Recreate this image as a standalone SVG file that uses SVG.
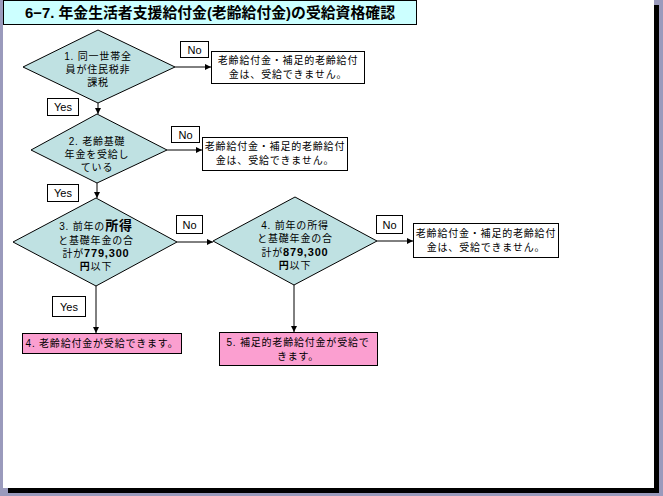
<svg xmlns="http://www.w3.org/2000/svg" width="663" height="496" viewBox="0 0 663 496">
<defs>
<marker id="arr" markerWidth="6" markerHeight="6" refX="6" refY="3" orient="auto" markerUnits="userSpaceOnUse">
<path d="M0,0 L6,3 L0,6 z" fill="#000"/>
</marker>
<style>
.dia{fill:#bfe1e2;stroke:#000;stroke-width:1}
.box{fill:#fff;stroke:#000;stroke-width:1}
.pink{fill:#fb9fd0;stroke:#000;stroke-width:1}
.lbl{fill:#fff;stroke:#000;stroke-width:1}
.jp{font-family:"Liberation Sans","Noto Sans CJK JP",sans-serif;font-size:10px;letter-spacing:0.8px;fill:#000;text-anchor:middle}
.en{font-family:"Liberation Sans",Arial,sans-serif;font-size:11px;fill:#000;text-anchor:middle}
.b{font-weight:bold}
.con{stroke:#000;stroke-width:1;fill:none;marker-end:url(#arr)}
</style>
</defs>
<rect x="0" y="0" width="663" height="496" fill="#9a9abc"/>
<rect x="8" y="5" width="651" height="488" fill="#000"/>
<rect x="3" y="0" width="651" height="488" fill="#fff"/>
<g id="title">
<rect x="3.5" y="0.5" width="413" height="24" fill="#ccffff" stroke="#000"/>
<text x="210" y="18" font-family="'Liberation Sans','Noto Sans CJK JP',sans-serif" font-size="15" font-weight="bold" text-anchor="middle" textLength="370" lengthAdjust="spacingAndGlyphs">6−7. 年金生活者支援給付金(老齢給付金)の受給資格確認</text>
</g>
<g id="connectors">
<line class="con" x1="175" y1="67" x2="211" y2="67"/>
<line class="con" x1="98" y1="103" x2="98" y2="114"/>
<line class="con" x1="167" y1="150" x2="202" y2="150"/>
<line class="con" x1="97" y1="183" x2="97" y2="198"/>
<line class="con" x1="177" y1="242" x2="213" y2="242"/>
<line class="con" x1="96" y1="286" x2="96" y2="333"/>
<line class="con" x1="377" y1="241" x2="413" y2="241"/>
<line class="con" x1="294" y1="285" x2="294" y2="332"/>
</g>
<g id="lbl-no1"><rect class="lbl" x="180.5" y="41.5" width="28" height="16"/><text class="en" x="194.5" y="53.5">No</text></g>
<g id="lbl-yes1"><rect class="lbl" x="47.5" y="98.5" width="31" height="17"/><text class="en" x="63" y="111">Yes</text></g>
<g id="lbl-no2"><rect class="lbl" x="171.5" y="126.5" width="28" height="16"/><text class="en" x="185.5" y="138.5">No</text></g>
<g id="lbl-yes2"><rect class="lbl" x="47.5" y="184.5" width="31" height="17"/><text class="en" x="63" y="197">Yes</text></g>
<g id="lbl-no3"><rect class="lbl" x="176.5" y="215.5" width="26" height="18"/><text class="en" x="189.5" y="228.5">No</text></g>
<g id="lbl-yes3"><rect class="lbl" x="52.5" y="296.5" width="33" height="20"/><text class="en" x="69" y="310.5">Yes</text></g>
<g id="lbl-no4"><rect class="lbl" x="376.5" y="215.5" width="26" height="18"/><text class="en" x="389.5" y="228.5">No</text></g>
<g id="d1">
<polygon class="dia" points="98,30 175,67 98,103 23,67"/>
<text class="jp" x="98" y="60">1. 同一世帯全</text>
<text class="jp" x="98" y="73">員が住民税非</text>
<text class="jp" x="98" y="86">課税</text>
</g>
<g id="d2">
<polygon class="dia" points="97,114 167,150 97,183 31,150"/>
<text class="jp" x="97" y="145">2. 老齢基礎</text>
<text class="jp" x="97" y="158">年金を受給し</text>
<text class="jp" x="97" y="171">ている</text>
</g>
<g id="d3">
<polygon class="dia" points="96,198 177,242 96,286 13,242"/>
<text class="jp" x="96" y="230">3. 前年の<tspan class="b" font-size="13">所得</tspan></text>
<text class="jp" x="96" y="244">と基礎年金の合</text>
<text class="jp" x="96" y="257">計が<tspan class="b" font-size="11">779,300</tspan></text>
<text class="jp" x="96" y="270"><tspan class="b">円</tspan>以下</text>
</g>
<g id="d4">
<polygon class="dia" points="295,197 377,241 294,285 213,241"/>
<text class="jp" x="295" y="229">4. 前年の所得</text>
<text class="jp" x="295" y="242">と基礎年金の合</text>
<text class="jp" x="295" y="256">計が<tspan class="b" font-size="11">879,300</tspan></text>
<text class="jp" x="295" y="269"><tspan class="b">円</tspan>以下</text>
</g>
<g id="box1">
<rect class="box" x="211.5" y="51.5" width="153" height="32"/>
<text class="jp" x="288" y="64">老齢給付金・補足的老齢給付</text>
<text class="jp" x="288" y="78">金は、受給できません。</text>
</g>
<g id="box2">
<rect class="box" x="202.5" y="137.5" width="145" height="33"/>
<text class="jp" x="275" y="150">老齢給付金・補足的老齢給付</text>
<text class="jp" x="275" y="164">金は、受給できません。</text>
</g>
<g id="box3">
<rect class="box" x="413.5" y="223.5" width="145" height="34"/>
<text class="jp" x="486" y="237">老齢給付金・補足的老齢給付</text>
<text class="jp" x="486" y="251">金は、受給できません。</text>
</g>
<g id="box4">
<rect class="pink" x="22.5" y="333.5" width="159" height="20"/>
<text class="jp" x="102" y="347">4. 老齢給付金が受給できます。</text>
</g>
<g id="box5">
<rect class="pink" x="219.5" y="332.5" width="158" height="33"/>
<text class="jp" x="298" y="346">5. 補足的老齢給付金が受給で</text>
<text class="jp" x="298" y="360">きます。</text>
</g>
</svg>
